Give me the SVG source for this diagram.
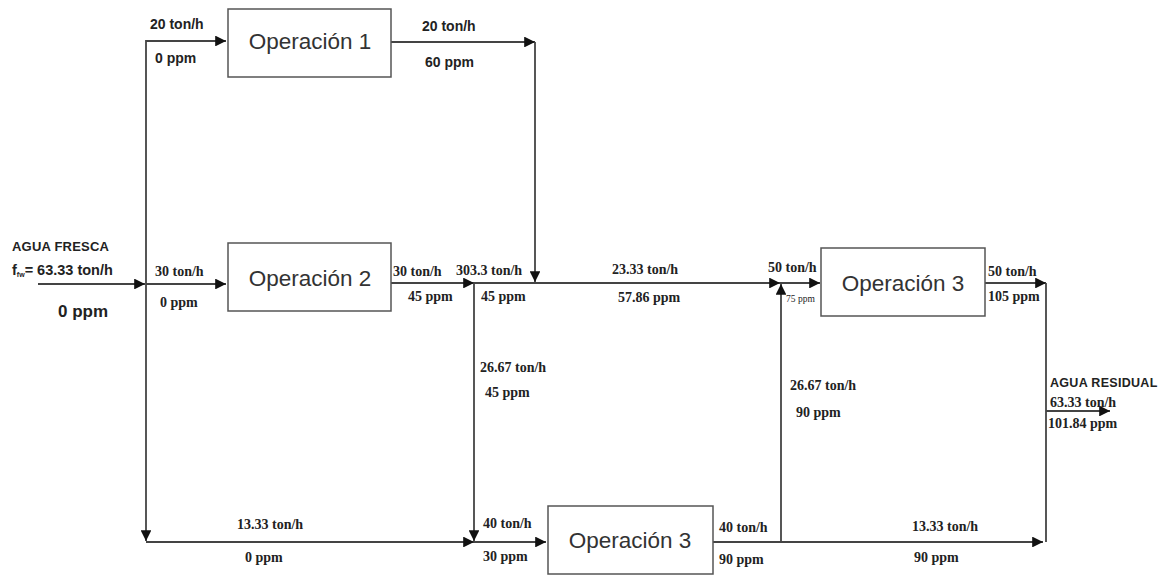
<svg xmlns="http://www.w3.org/2000/svg" width="1164" height="576" viewBox="0 0 1164 576">
<style>
.box{fill:#fff;stroke:#555;stroke-width:1.5}
.op{font-family:"Liberation Sans",Arial,sans-serif;font-size:22.5px;fill:#333;text-anchor:middle;dominant-baseline:central}
.ln{stroke:#444;stroke-width:1.8;fill:none}
.lb{font-family:"Liberation Sans",Arial,sans-serif;font-size:14px;font-weight:bold;fill:#222}
.sm{font-family:"Liberation Serif","Times New Roman",serif;font-size:14px;font-weight:bold;fill:#222}
</style>
<defs>
<marker id="ah" viewBox="0 0 10 10" refX="10" refY="5" markerWidth="6" markerHeight="6" orient="auto" markerUnits="strokeWidth">
<path d="M0,0 L10,5 L0,10 z" fill="#111"/>
</marker>
</defs>
<g id="connectors">
<path class="ln" d="M146,284 V41 H226" marker-end="url(#ah)"/>
<path class="ln" d="M146,284 V541" marker-end="url(#ah)"/>
<path class="ln" d="M146,542 H474" marker-end="url(#ah)"/>
<path class="ln" d="M38,284 H145" marker-end="url(#ah)"/>
<path class="ln" d="M146,284 H226" marker-end="url(#ah)"/>
<path class="ln" d="M391,42 H535" marker-end="url(#ah)"/>
<path class="ln" d="M535,42 V282" marker-end="url(#ah)"/>
<path class="ln" d="M391,283 H474" marker-end="url(#ah)"/>
<path class="ln" d="M474,283 H780" marker-end="url(#ah)"/>
<path class="ln" d="M780,283 H820" marker-end="url(#ah)"/>
<path class="ln" d="M474,283 V541" marker-end="url(#ah)"/>
<path class="ln" d="M474,542 H546" marker-end="url(#ah)"/>
<path class="ln" d="M713,542 H1043" marker-end="url(#ah)"/>
<path class="ln" d="M781,542 V284" marker-end="url(#ah)"/>
<path class="ln" d="M985,283 H1046" marker-end="url(#ah)"/>
<path class="ln" d="M1046,283 V542"/>
<path class="ln" d="M1046,411 H1110" marker-end="url(#ah)"/>
</g>
<g id="op1">
<rect class="box" x="228" y="9" width="163" height="68"/>
<text class="op" x="310" y="41">Operación 1</text>
</g>
<g id="op2">
<rect class="box" x="228" y="243" width="163" height="68"/>
<text class="op" x="310" y="278">Operación 2</text>
</g>
<g id="op3-top">
<rect class="box" x="821" y="248" width="164" height="68"/>
<text class="op" x="903" y="283">Operación 3</text>
</g>
<g id="op3-bottom">
<rect class="box" x="548" y="506" width="165" height="68"/>
<text class="op" x="630" y="540">Operación 3</text>
</g>
<g id="labels">
<text class="lb" x="150" y="29">20 ton/h</text>
<text class="lb" x="155" y="63">0 ppm</text>
<text class="lb" x="422" y="31">20 ton/h</text>
<text class="lb" x="425" y="67">60 ppm</text>
<text class="lb" x="12" y="251" style="font-size:13px;letter-spacing:0.2px">AGUA FRESCA</text>
<text class="lb" x="12" y="275" style="font-size:14.5px">f<tspan font-size="7" dy="2">fw</tspan><tspan dy="-2">= 63.33 ton/h</tspan></text>
<text class="lb" x="58" y="317" style="font-size:17px">0 ppm</text>
<text class="sm" x="155" y="276">30 ton/h</text>
<text class="sm" x="160" y="307">0 ppm</text>
<text class="sm" x="393" y="276">30 ton/h</text>
<text class="sm" x="408" y="301">45 ppm</text>
<text class="sm" x="456" y="275">303.3 ton/h</text>
<text class="sm" x="481" y="301">45 ppm</text>
<text class="sm" x="612" y="274">23.33 ton/h</text>
<text class="sm" x="618" y="302">57.86 ppm</text>
<text class="sm" x="768" y="272">50 ton/h</text>
<text class="sm" x="786" y="302" style="font-size:9.5px;font-weight:normal">75 ppm</text>
<text class="sm" x="988" y="276">50 ton/h</text>
<text class="sm" x="988" y="301">105 ppm</text>
<text class="sm" x="480" y="372">26.67 ton/h</text>
<text class="sm" x="485" y="397">45 ppm</text>
<text class="sm" x="790" y="390">26.67 ton/h</text>
<text class="sm" x="796" y="417">90 ppm</text>
<text class="lb" x="1050" y="387" style="font-size:12.5px;letter-spacing:0.3px">AGUA RESIDUAL</text>
<text class="sm" x="1050" y="407">63.33 ton/h</text>
<text class="sm" x="1048" y="428">101.84 ppm</text>
<text class="sm" x="237" y="529">13.33 ton/h</text>
<text class="sm" x="245" y="562">0 ppm</text>
<text class="sm" x="483" y="528">40 ton/h</text>
<text class="sm" x="483" y="561">30 ppm</text>
<text class="sm" x="719" y="532">40 ton/h</text>
<text class="sm" x="719" y="564">90 ppm</text>
<text class="sm" x="912" y="531">13.33 ton/h</text>
<text class="sm" x="914" y="562">90 ppm</text>
</g>
</svg>
